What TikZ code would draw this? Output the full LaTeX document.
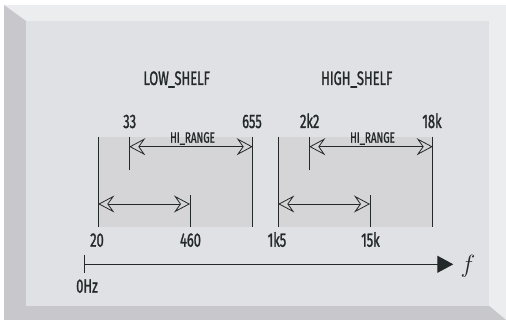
\documentclass[tikz,border=0pt]{standalone}
\usepackage{fontspec}
\setmainfont{Fira Sans}[FakeStretch=0.66,FakeBold=1.2]
\usetikzlibrary{arrows.meta}
\definecolor{panel}{HTML}{E0E1E5}
\definecolor{bevlight}{HTML}{ECEDEF}
\definecolor{bevdark}{HTML}{C8C7CB}
\definecolor{band}{HTML}{D5D5D8}
\definecolor{ink}{HTML}{232828}

\begin{document}
\begin{tikzpicture}[x=1pt,y=-1pt,
  lbl/.style={anchor=base,text=ink,inner sep=0pt,font=\fontsize{19.5}{20}\selectfont},
  sublbl/.style={anchor=base,text=ink,inner sep=0pt,font=\fontsize{15}{15}\selectfont},
  edge/.style={draw=ink,line width=1pt},
  span/.style={draw=ink,line width=0.8pt,
    {Stealth[open,length=16pt,width=17pt,inset=6pt]}-{Stealth[open,length=16pt,width=17pt,inset=6pt]}}]
\useasboundingbox (0,0) rectangle (506,320);
% bevelled frame
\fill[white] (0,0) rectangle (506,320);
\fill[bevlight] (4,5) rectangle (506,320);
\fill[bevdark] (4,5)--(26,21)--(26,305.7)--(489,305.7)--(506,320)--(4,320)--cycle;
\fill[panel] (26,21) rectangle (489,305.7);
% the two shelves
\foreach \o/\n/\a/\b/\c/\d/\title in {0/lo/20/33/460/655/LOW\_SHELF,
                                      180/hi/1k5/2k2/15k/18k/HIGH\_SHELF}{
\fill[band] (98.3+\o,136.7) rectangle (252.7+\o,227);
\coordinate (\n-a1) at (98.3+\o,136.7);
\coordinate (\n-a2) at (98.3+\o,227);
\coordinate (\n-b1) at (129.3+\o,136.7);
\coordinate (\n-b2) at (129.3+\o,170);
\coordinate (\n-c1) at (190+\o,195);
\coordinate (\n-c2) at (190+\o,227);
\coordinate (\n-d1) at (252.7+\o,136.7);
\coordinate (\n-d2) at (252.7+\o,227);
\draw[edge] (\n-a1)--(\n-a2);
\draw[edge] (\n-b1)--(\n-b2);
\draw[edge] (\n-c1)--(\n-c2);
\draw[edge] (\n-d1)--(\n-d2);
\coordinate (\n-hil) at (129.3+\o,146.7);
\coordinate (\n-hir) at (252.7+\o,146.7);
\coordinate (\n-lol) at (98.3+\o,204);
\coordinate (\n-lor) at (190+\o,204);
\draw[span] (\n-hil)--(\n-hir);
\draw[span] (\n-lol)--(\n-lor);
\node[lbl] (\n-ta) at (97+\o,246.7) {\a};
\node[lbl] (\n-tb) at (129.7+\o,128) {\b};
\node[lbl] (\n-tc) at (190.5+\o,246.7) {\c};
\node[lbl] (\n-td) at (252+\o,128) {\d};
\node[sublbl] (\n-range) at (192.5+\o,142.7) {HI\_RANGE};
\node[lbl] (\n-title) at (176.7+\o,85) {\title};
}
% frequency axis
\coordinate (zero) at (84.3,264.3);
\coordinate (fend) at (453.3,264.3);
\coordinate (zt1) at (84.3,255);
\coordinate (zt2) at (84.3,272.7);
\draw[edge] (zt1)--(zt2);
\draw[edge,-{Triangle[length=16pt,width=17pt]}] (zero)--(fend);
\node[lbl] (zerolbl) at (87,292.7) {0Hz};
\node[text=ink,font=\fontsize{24}{24}\selectfont] (flbl) at (468,266) {$f$};
\end{tikzpicture}
\end{document}
